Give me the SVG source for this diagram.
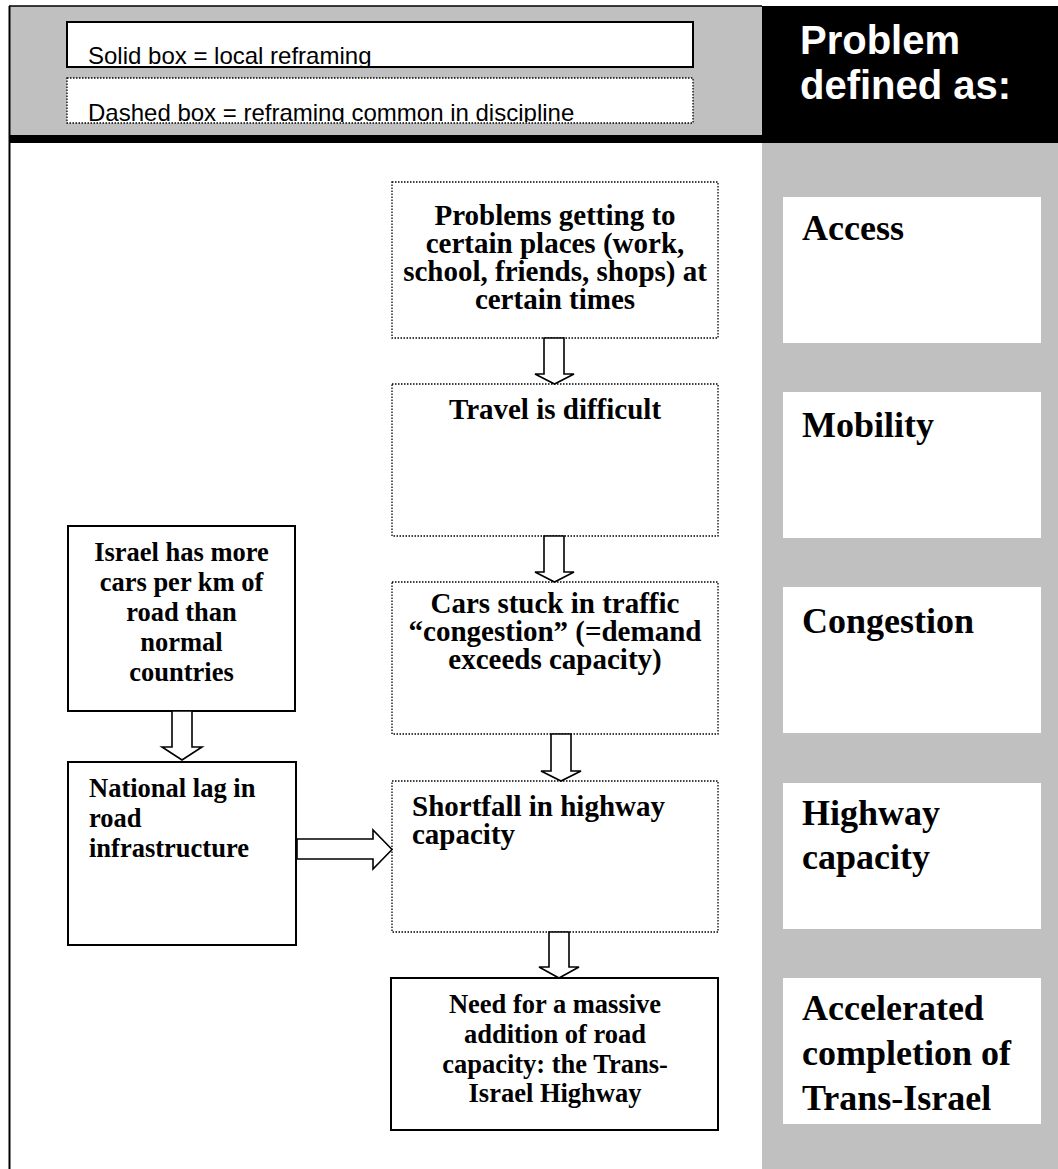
<svg xmlns="http://www.w3.org/2000/svg" width="1058" height="1169" viewBox="0 0 1058 1169">
<style>
.sans{font-family:"Liberation Sans",Arial,sans-serif;}
.serif{font-family:"Liberation Serif","Times New Roman",serif;font-weight:bold;fill:#000;}
.legend{font-size:24px;fill:#000;}
.head{font-size:40px;font-weight:bold;fill:#fff;}
.solid{fill:#fff;stroke:#000;stroke-width:2;}
.dotted{fill:#fff;stroke:#000;stroke-width:1.3;stroke-dasharray:1.5 1.5;}
.card{fill:#fff;}
.cardt{font-size:36px;}
.bt{font-size:26.5px;}
.dt{font-size:29px;}
.arrow{fill:#fff;stroke:#000;stroke-width:1.6;stroke-linejoin:miter;}
</style>
<defs>
<clipPath id="clipL1"><rect x="68" y="23" width="624" height="43"/></clipPath>
<clipPath id="clipL2"><rect x="68" y="79" width="624" height="43"/></clipPath>
</defs>
<rect x="0" y="0" width="1058" height="1169" fill="#fff"/>
<g id="frame">
<rect x="9" y="6" width="753" height="129" fill="#c0c0c0"/>
<line x1="9" y1="6" x2="762" y2="6" stroke="#000" stroke-width="1.5"/>
<rect x="9" y="135" width="753" height="8" fill="#000"/>
<rect x="762" y="6" width="296" height="137" fill="#000"/>
<rect x="762" y="143" width="296" height="1026" fill="#c0c0c0"/>
<line x1="9.5" y1="6" x2="9.5" y2="1169" stroke="#000" stroke-width="2"/>
</g>
<g id="legend-solid">
<rect class="solid" x="67" y="22" width="626" height="45"/>
<text class="sans legend" x="88" y="64" clip-path="url(#clipL1)">Solid box = local reframing</text>
</g>
<g id="legend-dashed">
<rect class="dotted" x="67" y="78" width="626" height="45"/>
<text class="sans legend" x="88" y="121" clip-path="url(#clipL2)">Dashed box = reframing common in discipline</text>
</g>
<g id="header">
<text class="sans head" x="800" y="54">Problem</text>
<text class="sans head" x="800" y="99">defined as:</text>
</g>
<g id="card-access">
<rect class="card" x="783" y="197" width="258" height="146"/>
<text class="serif cardt" x="802" y="240">Access</text>
</g>
<g id="card-mobility">
<rect class="card" x="783" y="392" width="258" height="146"/>
<text class="serif cardt" x="802" y="437">Mobility</text>
</g>
<g id="card-congestion">
<rect class="card" x="783" y="587" width="258" height="146"/>
<text class="serif cardt" x="802" y="633">Congestion</text>
</g>
<g id="card-highway">
<rect class="card" x="783" y="783" width="258" height="146"/>
<text class="serif cardt" x="802" y="825">Highway</text>
<text class="serif cardt" x="802" y="869">capacity</text>
</g>
<g id="card-accelerated">
<rect class="card" x="783" y="978" width="258" height="146"/>
<text class="serif cardt" x="802" y="1020">Accelerated</text>
<text class="serif cardt" x="802" y="1065">completion of</text>
<text class="serif cardt" x="802" y="1110">Trans-Israel</text>
</g>
<g id="box-access">
<rect class="dotted" x="392" y="182" width="326" height="156"/>
<text class="serif dt" text-anchor="middle" x="555" y="225">Problems getting to</text>
<text class="serif dt" text-anchor="middle" x="555" y="253">certain places (work,</text>
<text class="serif dt" text-anchor="middle" x="555" y="281">school, friends, shops) at</text>
<text class="serif dt" text-anchor="middle" x="555" y="309">certain times</text>
</g>
<g id="box-travel">
<rect class="dotted" x="392" y="384" width="326" height="152"/>
<text class="serif dt" text-anchor="middle" x="555" y="419">Travel is difficult</text>
</g>
<g id="box-cars">
<rect class="dotted" x="392" y="582" width="326" height="152"/>
<text class="serif dt" text-anchor="middle" x="555" y="613">Cars stuck in traffic</text>
<text class="serif dt" text-anchor="middle" x="555" y="641">“congestion” (=demand</text>
<text class="serif dt" text-anchor="middle" x="555" y="669">exceeds capacity)</text>
</g>
<g id="box-shortfall">
<rect class="dotted" x="392" y="781" width="326" height="151"/>
<text class="serif dt" x="412" y="816">Shortfall in highway</text>
<text class="serif dt" x="412" y="844">capacity</text>
</g>
<g id="box-need">
<rect class="solid" x="391" y="978" width="327" height="152"/>
<text class="serif bt" text-anchor="middle" x="555" y="1013">Need for a massive</text>
<text class="serif bt" text-anchor="middle" x="555" y="1043">addition of road</text>
<text class="serif bt" text-anchor="middle" x="555" y="1072.5">capacity: the Trans-</text>
<text class="serif bt" text-anchor="middle" x="555" y="1102">Israel Highway</text>
</g>
<g id="box-cars-per-km">
<rect class="solid" x="68" y="526" width="227" height="185"/>
<text class="serif bt" text-anchor="middle" x="181.5" y="561">Israel has more</text>
<text class="serif bt" text-anchor="middle" x="181.5" y="591">cars per km of</text>
<text class="serif bt" text-anchor="middle" x="181.5" y="621">road than</text>
<text class="serif bt" text-anchor="middle" x="181.5" y="651">normal</text>
<text class="serif bt" text-anchor="middle" x="181.5" y="681">countries</text>
</g>
<g id="box-national-lag">
<rect class="solid" x="68" y="762" width="228" height="183"/>
<text class="serif bt" x="89" y="797">National lag in</text>
<text class="serif bt" x="89" y="827">road</text>
<text class="serif bt" x="89" y="857">infrastructure</text>
</g>
<g id="connectors">
<polygon class="arrow" points="544,338 564,338 564,374 574,374 554.5,384 535,374 544,374"/>
<polygon class="arrow" points="544,536 564,536 564,572 574,572 554.5,582 535,572 544,572"/>
<polygon class="arrow" points="551,734 571,734 571,771 581,771 561,781 541,771 551,771"/>
<polygon class="arrow" points="549,932 569,932 569,967 579,967 559,978 539,967 549,967"/>
<polygon class="arrow" points="172,711 192,711 192,747 202,747 182,760 162,747 172,747"/>
<polygon class="arrow" points="297,839 373,839 373,830 392,849.5 373,869 373,859 297,859"/>
</g>
</svg>
